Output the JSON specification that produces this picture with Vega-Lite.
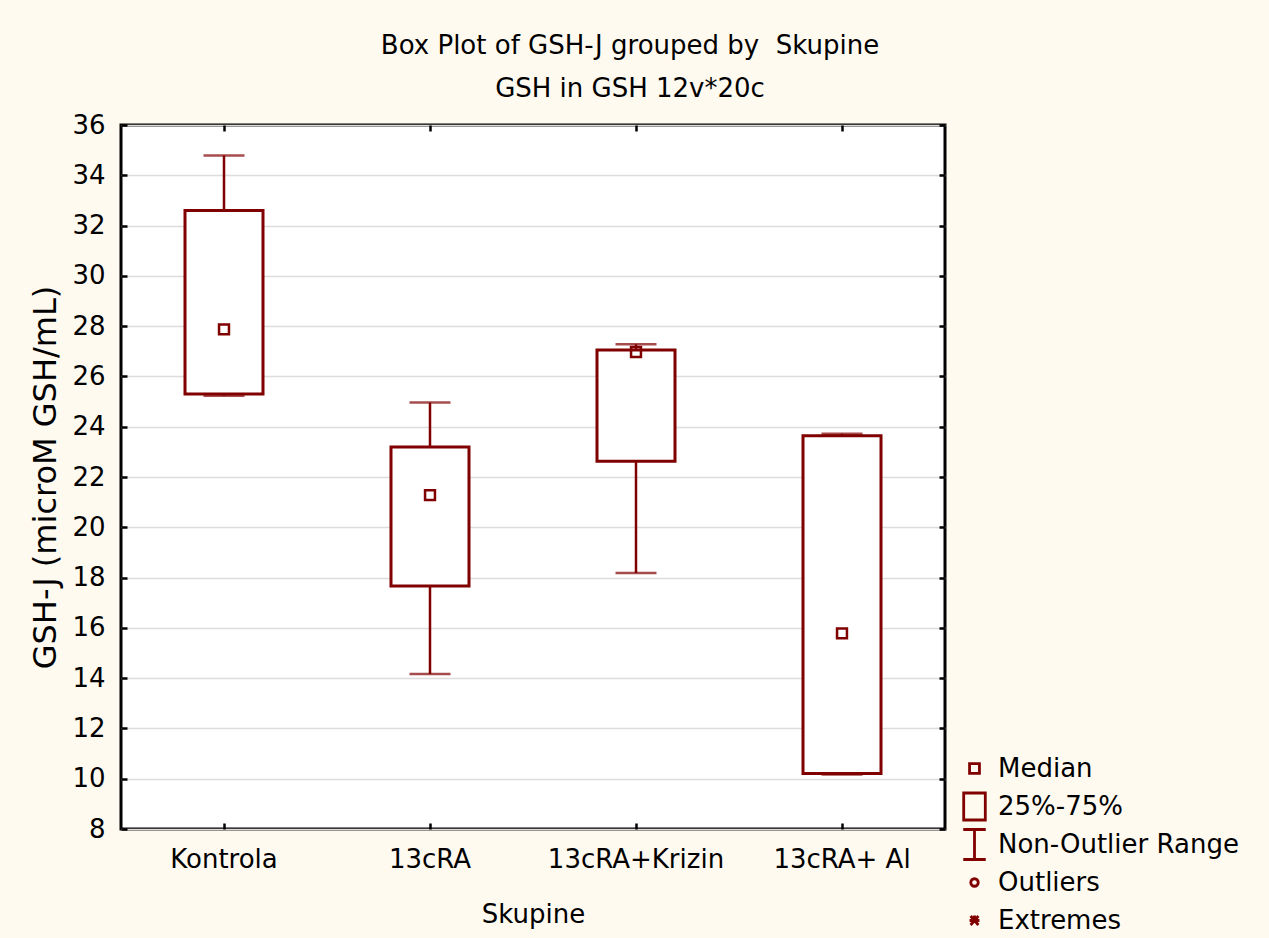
{
  "$schema": "https://vega.github.io/schema/vega-lite/v6.json",
  "width": 824,
  "height": 704,
  "autosize": {"type": "none"},
  "padding": {"left": 121, "top": 125, "right": 324, "bottom": 109},
  "background": "#fffaf0",
  "title": {
    "text": "Box Plot of GSH-J grouped by\u00a0 Skupine",
    "subtitle": "GSH in GSH 12v*20c",
    "anchor": "middle",
    "dx": 97,
    "offset": 10,
    "subtitlePadding": 17
  },
  "data": {
    "values": [
      {"group": "Kontrola", "lo": 25.23, "q1": 25.3, "med": 27.87, "q3": 32.6, "hi": 34.79},
      {"group": "13cRA", "lo": 14.16, "q1": 17.66, "med": 21.28, "q3": 23.19, "hi": 24.96},
      {"group": "13cRA+Krizin", "lo": 18.18, "q1": 22.63, "med": 26.97, "q3": 27.05, "hi": 27.28},
      {"group": "13cRA+ Al", "lo": 10.17, "q1": 10.21, "med": 15.78, "q3": 23.64, "hi": 23.72}
    ]
  },
  "resolve": {"axis": {"x": "independent", "y": "independent"}},
  "layer": [
    {
      "mark": {"type": "rule", "color": "#800000", "strokeWidth": 2.5},
      "encoding": {
        "x": {
          "field": "group", "type": "nominal",
          "sort": ["Kontrola", "13cRA", "13cRA+Krizin", "13cRA+ Al"],
          "scale": {"paddingInner": 0, "paddingOuter": 0},
          "axis": {"orient": "bottom", "title": "Skupine", "labelAngle": 0, "labelPadding": 23, "titlePadding": 29, "grid": false}
        },
        "y": {
          "field": "lo", "type": "quantitative",
          "scale": {"domain": [8, 36], "nice": false, "zero": false},
          "axis": {"orient": "left", "title": "GSH-J (microM GSH/mL)", "values": [8, 10, 12, 14, 16, 18, 20, 22, 24, 26, 28, 30, 32, 34, 36], "labelPadding": 22, "titlePadding": 9, "titleFontSize": 32, "grid": true}
        },
        "y2": {"field": "hi"}
      }
    },
    {
      "mark": {"type": "tick", "orient": "horizontal", "color": "#800000", "size": 41, "thickness": 2.5},
      "encoding": {
        "x": {
          "field": "group", "type": "nominal",
          "sort": ["Kontrola", "13cRA", "13cRA+Krizin", "13cRA+ Al"],
          "axis": {"orient": "top", "title": null, "labels": false, "grid": false}
        },
        "y": {
          "field": "lo", "type": "quantitative",
          "axis": {"orient": "right", "title": null, "labels": false, "grid": false, "values": [8, 10, 12, 14, 16, 18, 20, 22, 24, 26, 28, 30, 32, 34, 36]}
        }
      }
    },
    {
      "mark": {"type": "tick", "orient": "horizontal", "color": "#800000", "size": 41, "thickness": 2.5},
      "encoding": {
        "x": {"field": "group", "type": "nominal", "sort": ["Kontrola", "13cRA", "13cRA+Krizin", "13cRA+ Al"], "axis": null},
        "y": {"field": "hi", "type": "quantitative", "axis": null}
      }
    },
    {
      "mark": {"type": "bar", "width": 78, "fill": "white", "stroke": "#800000", "strokeWidth": 3},
      "encoding": {
        "x": {"field": "group", "type": "nominal", "sort": ["Kontrola", "13cRA", "13cRA+Krizin", "13cRA+ Al"], "axis": null},
        "y": {"field": "q1", "type": "quantitative", "axis": null},
        "y2": {"field": "q3"}
      }
    },
    {
      "mark": {"type": "point", "filled": false, "stroke": "#800000", "strokeWidth": 2.5, "size": 900, "opacity": 1},
      "encoding": {
        "x": {"field": "group", "type": "nominal", "sort": ["Kontrola", "13cRA", "13cRA+Krizin", "13cRA+ Al"], "axis": null},
        "y": {"field": "med", "type": "quantitative", "axis": null},
        "shape": {
          "datum": "Median",
          "scale": {
            "domain": ["Median", "25%-75%", "Non-Outlier Range", "Outliers", "Extremes"],
            "range": [
              "M-0.33,-0.33H0.33V0.33H-0.33Z",
              "M-0.72,-0.9H0.72V0.9H-0.72Z",
              "M-0.75,-1H0.75M0,-1V1M-0.75,1H0.75",
              "M0.25,0A0.25,0.25 0 1,1 -0.25,0A0.25,0.25 0 1,1 0.25,0",
              "M-0.33,0H0.33M0,-0.33V0M0,0L-0.26,0.3M0,0L0.26,0.3M0,0L-0.26,-0.3M0,0L0.26,-0.3"
            ]
          },
          "legend": {
            "title": null,
            "orient": "none",
            "legendX": 837,
            "legendY": 627,
            "symbolSize": 900,
            "symbolStrokeWidth": 2.8,
            "symbolStrokeColor": "#800000",
            "symbolFillColor": "transparent",
            "labelFontSize": 26,
            "labelFont": "DejaVu Sans",
            "labelColor": "black",
            "labelOffset": 7,
            "rowPadding": -7,
            "gridAlign": "all",
            "padding": 0,
            "labelLimit": 400
          }
        }
      }
    }
  ],
  "config": {
    "font": "DejaVu Sans",
    "view": {"stroke": "black", "strokeWidth": 3, "fill": "white"},
    "title": {"fontSize": 26, "fontWeight": "normal", "color": "black", "font": "DejaVu Sans", "subtitleFontSize": 26, "subtitleColor": "black", "subtitleFont": "DejaVu Sans"},
    "axis": {
      "domain": false,
      "tickColor": "black",
      "tickWidth": 2.5,
      "tickSize": -6,
      "labelFontSize": 26,
      "labelColor": "black",
      "labelFont": "DejaVu Sans",
      "titleFontSize": 26,
      "titleFontWeight": "normal",
      "titleColor": "black",
      "titleFont": "DejaVu Sans",
      "gridColor": "#dcdcdc",
      "gridWidth": 1.5,
      "labelOverlap": false
    }
  }
}
